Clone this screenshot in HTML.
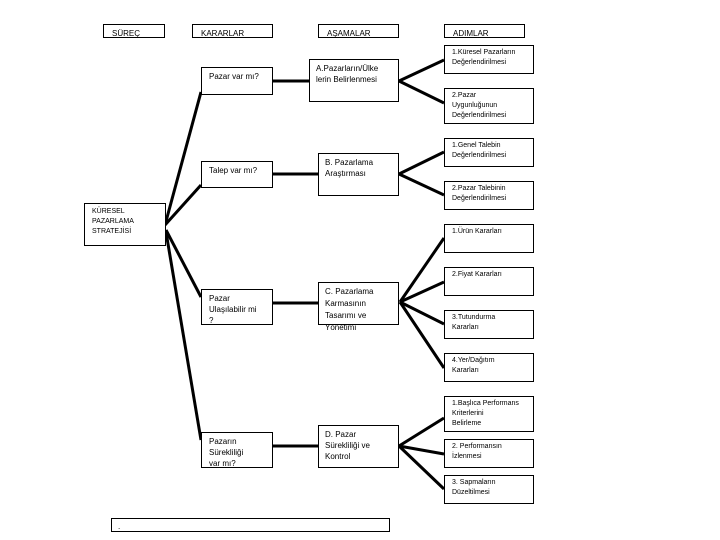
<!DOCTYPE html>
<html><head><meta charset="utf-8"><style>
body{margin:0;width:720px;height:540px;background:#fff;position:relative;overflow:hidden;font-family:"Liberation Sans",sans-serif;}
.b{position:absolute;border:1.3px solid #000;box-sizing:border-box;background:#fff;font-size:8px;line-height:11px;color:#000;padding:2px 0 0 6px;overflow:visible;}
.s{font-size:7px;line-height:10px;padding-left:7px;}
.h{font-size:8px;line-height:10px;padding:4px 0 0 8px;}
svg{position:absolute;left:0;top:0;}
</style></head><body>
<svg width="720" height="540"><g stroke="#000" stroke-width="3" fill="none">
<line x1="165" y1="225" x2="201" y2="92"/>
<line x1="165" y1="225" x2="201" y2="185"/>
<line x1="166" y1="230" x2="201" y2="297"/>
<line x1="166" y1="232" x2="201" y2="440"/>
<line x1="273" y1="81" x2="309" y2="81"/>
<line x1="273" y1="174" x2="318" y2="174"/>
<line x1="273" y1="303" x2="318" y2="303"/>
<line x1="273" y1="446" x2="318" y2="446"/>
<line x1="399" y1="81" x2="444" y2="60"/>
<line x1="399" y1="81" x2="444" y2="103"/>
<line x1="399" y1="174" x2="444" y2="152"/>
<line x1="399" y1="174" x2="444" y2="195"/>
<line x1="400" y1="302" x2="444" y2="238"/>
<line x1="400" y1="302" x2="444" y2="282"/>
<line x1="400" y1="302" x2="444" y2="324"/>
<line x1="400" y1="302" x2="444" y2="368"/>
<line x1="399" y1="446" x2="444" y2="418"/>
<line x1="399" y1="446" x2="444" y2="454"/>
<line x1="399" y1="446" x2="444" y2="489"/>
</g></svg>
<div class="b h" style="left:103px;top:24px;width:62px;height:14px">SÜREÇ</div>
<div class="b h" style="left:192px;top:24px;width:81px;height:14px">KARARLAR</div>
<div class="b h" style="left:318px;top:24px;width:81px;height:14px">AŞAMALAR</div>
<div class="b h" style="left:444px;top:24px;width:81px;height:14px">ADIMLAR</div>
<div class="b s" style="left:84px;top:203px;width:82px;height:43px;padding-top:3px">KÜRESEL<br>PAZARLAMA<br>STRATEJİSİ</div>
<div class="b" style="left:201px;top:67px;width:72px;height:28px;padding:3px 0 0 7px">Pazar var mı?</div>
<div class="b" style="left:201px;top:161px;width:72px;height:27px;padding:3px 0 0 7px">Talep var mı?</div>
<div class="b" style="left:201px;top:289px;width:72px;height:36px;padding:3px 0 0 7px;overflow:hidden">Pazar<br>Ulaşılabilir mi<br>?</div>
<div class="b" style="left:201px;top:432px;width:72px;height:36px;padding:3px 0 0 7px;overflow:hidden">Pazarın<br>Sürekliliği<br>var mı?</div>
<div class="b" style="left:309px;top:59px;width:90px;height:43px;padding:3px 0 0 6px">A.Pazarların/Ülke<br>lerin Belirlenmesi</div>
<div class="b" style="left:318px;top:153px;width:81px;height:43px;padding:3px 0 0 6px">B. Pazarlama<br>Araştırması</div>
<div class="b" style="left:318px;top:282px;width:81px;height:43px;padding:3px 0 0 6px;line-height:12px">C. Pazarlama<br>Karmasının<br>Tasarımı ve<br>Yönetimi</div>
<div class="b" style="left:318px;top:425px;width:81px;height:43px;padding:3px 0 0 6px">D. Pazar<br>Sürekliliği ve<br>Kontrol</div>
<div class="b s" style="left:444px;top:45px;width:90px;height:29px">1.Küresel Pazarların<br>Değerlendirilmesi</div>
<div class="b s" style="left:444px;top:88px;width:90px;height:36px">2.Pazar<br>Uygunluğunun<br>Değerlendirilmesi</div>
<div class="b s" style="left:444px;top:138px;width:90px;height:29px">1.Genel Talebin<br>Değerlendirilmesi</div>
<div class="b s" style="left:444px;top:181px;width:90px;height:29px">2.Pazar Talebinin<br>Değerlendirilmesi</div>
<div class="b s" style="left:444px;top:224px;width:90px;height:29px">1.Ürün Kararları</div>
<div class="b s" style="left:444px;top:267px;width:90px;height:29px">2.Fiyat Kararları</div>
<div class="b s" style="left:444px;top:310px;width:90px;height:29px">3.Tutundurma<br>Kararları</div>
<div class="b s" style="left:444px;top:353px;width:90px;height:29px">4.Yer/Dağıtım<br>Kararları</div>
<div class="b s" style="left:444px;top:396px;width:90px;height:36px">1.Başlıca Performans<br>Kriterlerini<br>Belirleme</div>
<div class="b s" style="left:444px;top:439px;width:90px;height:29px">2. Performansın<br>İzlenmesi</div>
<div class="b s" style="left:444px;top:475px;width:90px;height:29px">3. Sapmaların<br>Düzeltilmesi</div>
<div class="b" style="left:111px;top:518px;width:279px;height:14px;padding:2px 0 0 6px">.</div>
</body></html>
